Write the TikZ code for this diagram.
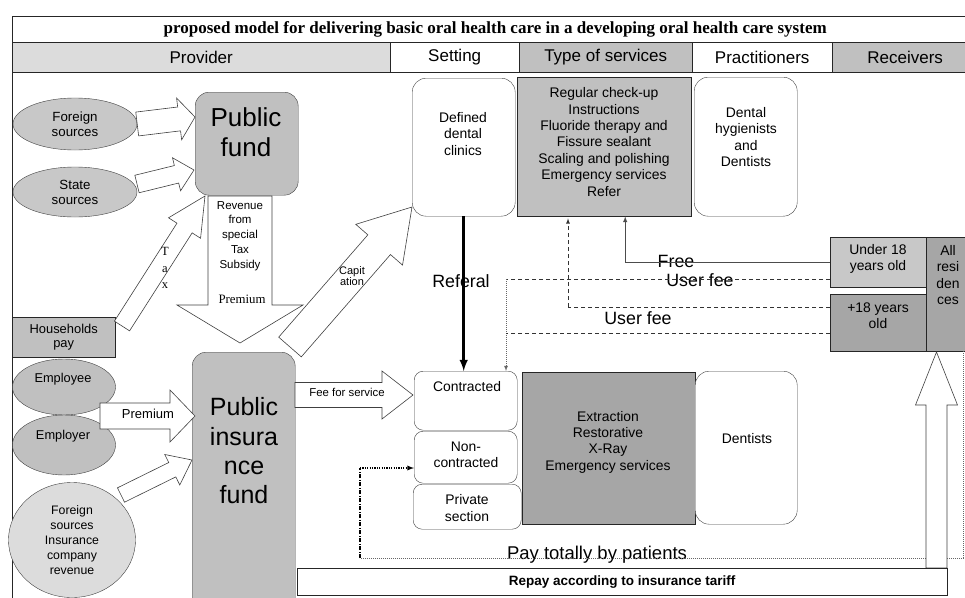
\documentclass[tikz,border=0pt]{standalone}
\usepackage{fontspec}
\setmainfont{Liberation Sans}
\newfontfamily\serifface{Liberation Serif}
\usetikzlibrary{calc}
\usetikzlibrary{arrows}
\usetikzlibrary{shapes.geometric}

\definecolor{lgray}{HTML}{DCDCDC}
\definecolor{mgray}{HTML}{C0C0C0}
\definecolor{sgray}{HTML}{C8C8C8}
\definecolor{dgray}{HTML}{A6A6A6}

\tikzset{
  cell/.style={draw=black!85, anchor=north west, inner sep=0pt, minimum height=30pt, font=\fontsize{17}{19}\selectfont},
  sbox/.style={draw=black!85, anchor=north west, inner sep=0pt, align=center},
  rbox/.style={draw=black!75, fill=white, rounded corners=14pt, anchor=north west, inner sep=0pt},
  oval/.style={ellipse, draw=black!75, fill=sgray, inner sep=0pt, align=center, font=\fontsize{13.3}{15}\selectfont},
  lbl/.style={align=center, inner sep=0pt, font=\fontsize{13.9}{16.4}\selectfont},
  big/.style={align=center, inner sep=0pt, font=\fontsize{26}{30}\selectfont},
  flow/.style={align=center, inner sep=0pt, font=\fontsize{17.8}{20}\selectfont},
  barrow/.style={draw=black!75, fill=white, line width=0.6pt},
  dashline/.style={draw=black!80, line width=0.8pt, dash pattern=on 4pt off 3pt},
  dotline/.style={draw=black!60, line width=0.8pt, dash pattern=on 1pt off 1pt},
}

% tail, tip, half shaft, half head, head length
\newcommand{\blockarrow}[5]{%
  \coordinate (bah) at ($(#2)!#5!(#1)$);
  \draw[barrow] ($(#1)!#3!90:(#2)$) -- ($(bah)!#3!90:(#2)$) -- ($(bah)!#4!90:(#2)$)
    -- (#2) -- ($(bah)!#4!-90:(#2)$) -- ($(bah)!#3!-90:(#2)$) -- ($(#1)!#3!-90:(#2)$) -- cycle;
}

\begin{document}
\begin{tikzpicture}[x=1pt, y=-1pt]
\useasboundingbox (0,0) rectangle (965,597);
\clip (0,0) rectangle (965,597);

% title and header row
\node[sbox, minimum width=966pt, minimum height=26pt, font=\serifface\bfseries\fontsize{17}{19}\selectfont] (title) at (12,16) {proposed model for delivering basic oral health care in a developing oral health care system};
\node[cell, fill=lgray, minimum width=378pt] (hprov) at (12,42) {Provider};
\node[cell, fill=white, minimum width=129pt] (hset) at (390,42) {Setting};
\node[cell, fill=mgray, minimum width=173pt] (htype) at (519,42) {Type of services};
\node[cell, fill=white, minimum width=140pt] (hprac) at (692,42) {Practitioners};
\node[cell, fill=mgray, minimum width=146pt] (hrec) at (832,42) {Receivers};
\draw[black!85] (hprov.south west) -- (12,600);

% provider side
\node[oval, minimum width=124pt, minimum height=52pt] (fsrc) at (75,124) {Foreign\\sources};
\node[oval, minimum width=124pt, minimum height=50pt] (ssrc) at (75,192) {State\\sources};
\node[rbox, fill=mgray, minimum width=103pt, minimum height=103pt] (pfund) at (195,92) {};
\node[big] (pfundtxt) at (246,132) {Public\\fund};
\node[sbox, fill=mgray, minimum width=103pt, minimum height=40pt, font=\fontsize{12.9}{14.5}\selectfont] (hh) at (12,317) {Households\\pay};

\node[oval, fill=mgray, minimum width=103pt, minimum height=56pt] (empe) at (64,387) {};
\node[lbl, font=\fontsize{12.8}{14}\selectfont] (empetxt) at (63,379) {Employee};
\node[oval, fill=mgray, minimum width=103pt, minimum height=60pt] (empr) at (64,445) {};
\node[lbl, font=\fontsize{12.8}{14}\selectfont] (emprtxt) at (63,436) {Employer};
\node[oval, fill=lgray, minimum width=127pt, minimum height=115pt, font=\fontsize{12.3}{14.8}\selectfont] (fcirc) at (72,540) {Foreign\\sources\\Insurance\\company\\revenue};

\node[rbox, fill=mgray, minimum width=103pt, minimum height=265pt] (insf) at (192,352) {};
\node[big, font=\fontsize{25}{29.3}\selectfont] (insftxt) at (244,451) {Public\\insura\\nce\\fund};

% block arrows
\coordinate (fsrcto) at (195,117);
\blockarrow{fsrc.east}{fsrcto}{12pt}{21pt}{16pt}
\coordinate (ssrcfrom) at (137,184);
\coordinate (ssrcto) at (194,170);
\blockarrow{ssrcfrom}{ssrcto}{9pt}{17pt}{18pt}
\coordinate (taxfrom) at (122,326);
\coordinate (taxto) at (205,196);
\blockarrow{taxfrom}{taxto}{9pt}{19pt}{38pt}
\node[lbl, font=\serifface\fontsize{12.5}{16.5}\selectfont] (taxtxt) at (165,268) {T\\a\\x};
\coordinate (downfrom) at (240,196);
\coordinate (downto) at (240,343);
\blockarrow{downfrom}{downto}{32pt}{63pt}{38pt}
\node[lbl, font=\fontsize{11.5}{14.8}\selectfont] (revtxt) at (240,236) {Revenue\\from\\special\\Tax\\Subsidy};
\node[lbl, font=\serifface\fontsize{12.8}{14}\selectfont] (premtxt) at (242,299) {Premium};
\coordinate (capfrom) at (290,347);
\coordinate (capto) at (412,207);
\blockarrow{capfrom}{capto}{15pt}{31pt}{50pt}
\node[lbl, font=\fontsize{11}{11.5}\selectfont] (captxt) at (352,276) {Capit\\ation};
\coordinate (premfrom) at (100,416);
\coordinate (premto) at (195,416);
\blockarrow{premfrom}{premto}{13pt}{26pt}{25pt}
\node[lbl, font=\fontsize{13}{14}\selectfont] (prem2txt) at (148,414) {Premium};
\coordinate (circfrom) at (121,495);
\coordinate (circto) at (192,460);
\blockarrow{circfrom}{circto}{8pt}{17pt}{22pt}
\coordinate (feefrom) at (295,395);
\coordinate (feeto) at (413,395);
\blockarrow{feefrom}{feeto}{12.5pt}{24pt}{31pt}
\node[lbl, font=\fontsize{11.4}{12}\selectfont] (feetxt) at (347,392) {Fee for service};

% setting, services, practitioners
\node[rbox, minimum width=103pt, minimum height=138pt] (ddc) at (412,78) {};
\node[lbl] (ddctxt) at (463,134) {Defined\\dental\\clinics};
\node[sbox, fill=mgray, minimum width=174pt, minimum height=139pt] (tos) at (517,77) {};
\node[lbl] (tostxt) at (604,142) {Regular check-up\\Instructions\\Fluoride therapy and\\Fissure sealant\\Scaling and polishing\\Emergency services\\Refer};
\node[rbox, minimum width=103pt, minimum height=139pt] (hyg) at (694,77) {};
\node[lbl] (hygtxt) at (746,137) {Dental\\hygienists\\and\\Dentists};

\node[rbox, rounded corners=9pt, minimum width=103pt, minimum height=59pt] (contr) at (414,371) {};
\node[lbl] (contrtxt) at (467,387) {Contracted};
\node[rbox, rounded corners=9pt, minimum width=103pt, minimum height=52pt] (nonc) at (414,431) {};
\node[lbl] (nonctxt) at (466,455) {Non-\\contracted};
\node[rbox, rounded corners=9pt, minimum width=108pt, minimum height=45pt] (priv) at (413,484) {};
\node[lbl] (privtxt) at (467,508) {Private\\section};
\node[sbox, fill=dgray, minimum width=173pt, minimum height=152pt] (extr) at (522,372) {};
\node[lbl] (extrtxt) at (608,442) {Extraction\\Restorative\\X-Ray\\Emergency services};
\node[rbox, minimum width=102pt, minimum height=153pt] (dent) at (695,371) {};
\node[lbl] (denttxt) at (747,439) {Dentists};

% receivers
\node[sbox, fill=sgray, minimum width=96pt, minimum height=50pt] (u18) at (830,237) {};
\node[lbl] (u18txt) at (878,259) {Under 18\\years old};
\node[sbox, fill=dgray, minimum width=96pt, minimum height=57pt] (p18) at (830,294) {};
\node[lbl] (p18txt) at (878,316) {+18 years\\old};
\node[sbox, fill=dgray, minimum width=44pt, minimum height=114pt] (allres) at (926,237) {};
\node[lbl] (allrestxt) at (948,275) {All\\resi\\den\\ces};

% flow labels
\node[flow] (reftxt) at (461,281) {Referal};
\node[flow] (freetxt) at (676,261) {Free};
\node[flow] (fee1txt) at (700,280) {User fee};
\node[flow] (fee2txt) at (638,318) {User fee};
\node[flow, font=\fontsize{18.5}{20}\selectfont] (paytxt) at (597,555) {Pay totally by patients};

% connectors
\draw[line width=2.8pt, -latex] (ddc.south) -- (ddc.south |- contr.north);
\draw[black!70, line width=1pt, -latex] (u18.west) -| ([xshift=21pt]tos.south);
\coordinate (j0) at (568,307);
\draw[dashline] (j0 -| p18.west) -- (j0);
\draw[dashline, -latex] (j0) -- ([yshift=-2pt]j0 |- tos.south);
\coordinate (j2) at (506,279);
\draw[dashline] (j2 -| u18.west) -- (j2);
\draw[dotline, -latex] (j2) -- (j2 |- contr.north);
\coordinate (j3) at (506,333);
\draw[dashline] (j3 -| p18.west) -- (j3);

\coordinate (d1) at (963,351);
\coordinate (d2) at (963,558);
\coordinate (d3) at (360,558);
\coordinate (d4) at (360,468);
\draw[dotline] (d1) -- (d2) -- (d3);
\draw[black, line width=1.3pt, dash pattern=on 4pt off 1.5pt on 1pt off 1.5pt] (d3) -- (d4);
\draw[black, line width=1.3pt, dash pattern=on 1.2pt off 1.2pt, -latex] (d4) -- (d4 -| nonc.west);

\coordinate (upfrom) at (936.5,568);
\coordinate (upto) at (936.5,352);
\blockarrow{upfrom}{upto}{10.5pt}{21pt}{53pt}
\node[sbox, fill=white, minimum width=650pt, minimum height=27pt, font=\bfseries\fontsize{13.5}{15}\selectfont] (repay) at (297,568) {Repay according to insurance tariff};
\end{tikzpicture}
\end{document}
